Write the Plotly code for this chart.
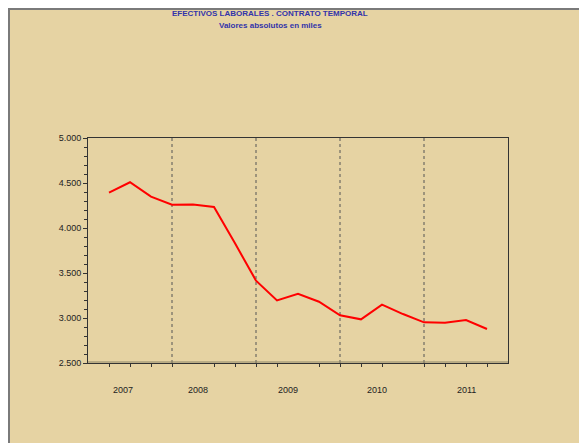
import plotly.graph_objects as go

# -----------------------------------------------------
# Data: quarterly temporary contracts (thousands)
# -----------------------------------------------------

years = ["2007", "2008", "2009", "2010", "2011"]

quarters_per_year = [4, 4, 4, 4, 3]

values = [
    4392, 4508, 4348, 4259,
    4262, 4233, 3830, 3415,
    3196, 3270, 3181, 3030,
    2985, 3148, 3044, 2952,
    2948, 2978, 2878,
]

# label anchor positions (axis units)
year_label_pos = [1.68, 5.22, 9.51, 13.78, 18.04]

TAN = "#E6D3A3"
BLUE = "#3333AA"
FONT = "Liberation Sans, Arial, sans-serif"

x = list(range(1, len(values) + 1))

# year separators at the last quarter of each year
breaks = []
acc = 0
for n in quarters_per_year[:-1]:
    acc += n
    breaks.append(acc)

fig = go.Figure()

fig.add_trace(
    go.Scatter(
        x=x,
        y=values,
        mode="lines",
        line=dict(color="#FF0000", width=2),
        showlegend=False,
        hoverinfo="skip",
    )
)

# dotted year separators
for b in breaks:
    fig.add_shape(
        type="line",
        xref="x",
        yref="y",
        x0=b,
        x1=b,
        y0=2500,
        y1=5000,
        line=dict(color="#555555", width=1, dash="dot"),
        layer="below",
    )

# grey frame on the top and left edge of the panel
fig.add_shape(type="line", xref="paper", yref="paper",
              x0=-79 / 420, x1=-79 / 420, y0=-0.5, y1=1.6,
              line=dict(color="#7A7A7A", width=2))
fig.add_shape(type="line", xref="paper", yref="paper",
              x0=-0.2, x1=1.3, y0=1 + 129 / 225, y1=1 + 129 / 225,
              line=dict(color="#7A7A7A", width=2))

# soft shadow line on the x axis
fig.add_shape(type="line", xref="paper", yref="paper",
              x0=0, x1=1, y0=1 / 225, y1=1 / 225,
              line=dict(color="#8C8466", width=1))

# titles
fig.add_annotation(
    text="<b>EFECTIVOS LABORALES . CONTRATO TEMPORAL</b>",
    xref="paper", yref="paper", x=(262 - 80) / 420, y=1 + 125 / 225,
    showarrow=False, xanchor="center", yanchor="middle",
    font=dict(family=FONT, size=8, color=BLUE),
)
fig.add_annotation(
    text="<b>Valores absolutos en miles</b>",
    xref="paper", yref="paper", x=(262 - 80) / 420, y=1 + 113 / 225,
    showarrow=False, xanchor="center", yanchor="middle",
    font=dict(family=FONT, size=8, color=BLUE),
)

# year labels
for yr, pos in zip(years, year_label_pos):
    fig.add_annotation(
        text=yr, xref="x", yref="paper", x=pos, y=-0.12,
        showarrow=False, xanchor="center", yanchor="middle",
        font=dict(family=FONT, size=9, color="#222222"),
    )

fig.update_layout(
    width=587,
    height=435,
    margin=dict(l=80, r=87, t=130, b=80),
    paper_bgcolor=TAN,
    plot_bgcolor=TAN,
    separators=",.",
    font=dict(family=FONT, size=9, color="#222222"),
    xaxis=dict(
        range=[0, 20],
        showgrid=False,
        zeroline=False,
        showline=True,
        mirror=True,
        linecolor="#333333",
        linewidth=1,
        showticklabels=False,
        ticks="",
        minor=dict(tick0=0, dtick=1, ticks="outside",
                   ticklen=3, tickcolor="#333333", showgrid=False),
    ),
    yaxis=dict(
        range=[2500, 5000],
        dtick=500,
        tickformat=",d",
        showgrid=False,
        zeroline=False,
        showline=True,
        mirror=True,
        linecolor="#333333",
        linewidth=1,
        ticks="outside",
        ticklen=4,
        tickcolor="#333333",
        minor=dict(dtick=100, ticks="outside", ticklen=3,
                   tickcolor="#333333", showgrid=False),
    ),
)

fig.write_html("out.html")
